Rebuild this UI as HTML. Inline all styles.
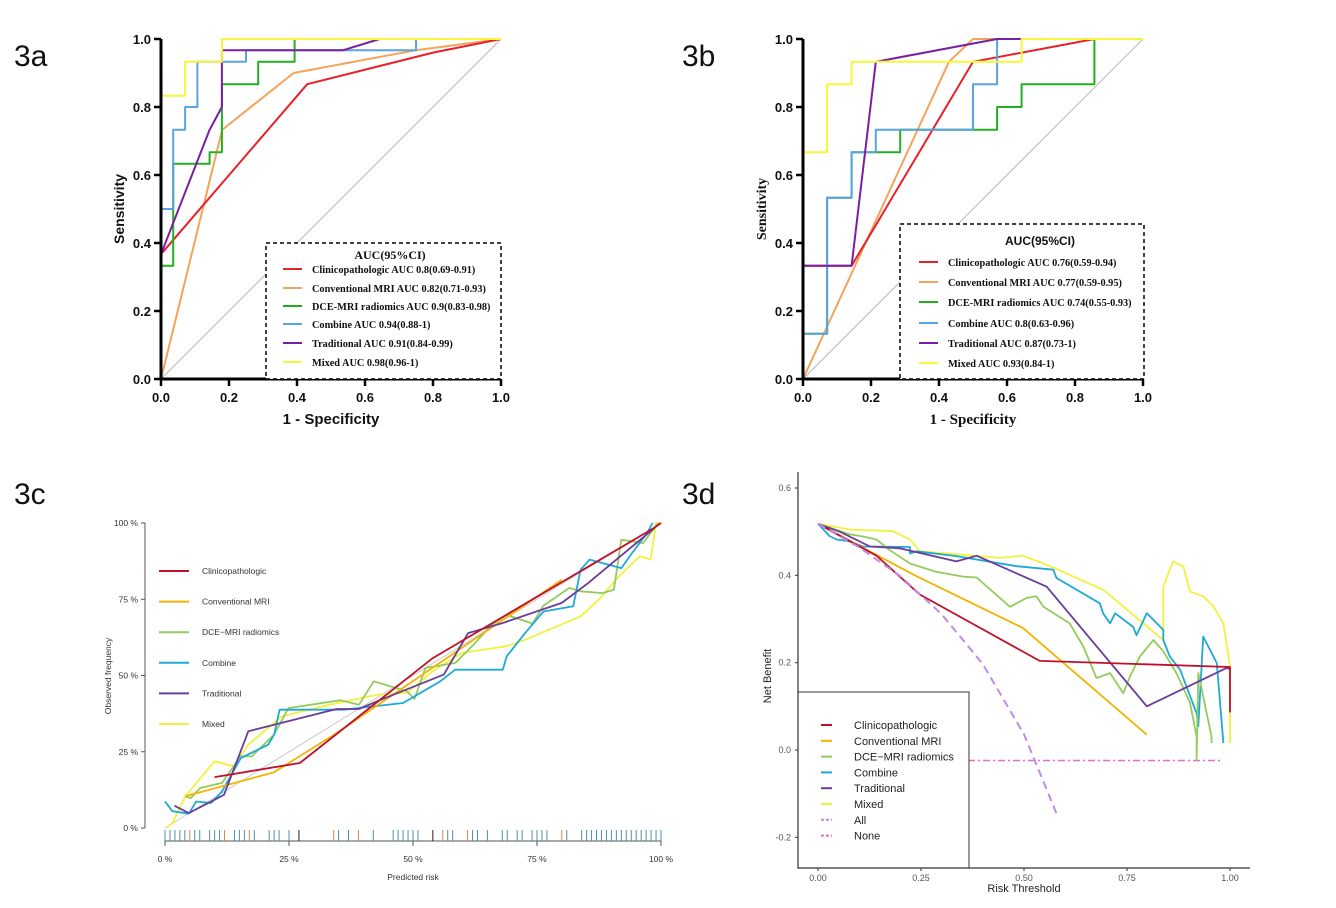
<!DOCTYPE html>
<html><head><meta charset="utf-8"><style>
html,body{margin:0;padding:0;background:#fff;}
svg{display:block;}
.pl{font-family:"Liberation Sans",sans-serif;font-size:30px;fill:#111;}
.tkb{font-family:"Liberation Sans",sans-serif;font-weight:bold;font-size:13px;fill:#111;}
.lgs{font-family:"Liberation Serif",serif;font-weight:bold;font-size:10.3px;fill:#111;}
.sm{font-family:"Liberation Sans",sans-serif;font-size:8.5px;fill:#333;}
.dd{font-family:"Liberation Sans",sans-serif;font-size:9px;fill:#555;}
</style></head><body>
<svg id="fig" width="1336" height="908" viewBox="0 0 1336 908" xmlns="http://www.w3.org/2000/svg">
<rect width="1336" height="908" fill="#fff"/>
<text class="pl" x="14" y="66">3a</text>
<text class="pl" x="682" y="66">3b</text>
<text class="pl" x="14" y="504">3c</text>
<text class="pl" x="682" y="504">3d</text>
<g id="pa"></g>
<g id="pb"></g>
<g id="pc"></g>
<g id="pd"></g>
</svg>
<script>
// ---- 3a ROC data ----
const rocA_clin = [[0,0],[0,0.367],[0.43,0.867],[0.8,0.96],[1,1]];
const rocA_conv = [[0,0],[0.18,0.733],[0.39,0.9],[0.75,0.967],[1,1]];
const rocA_dce = [[0,0],[0,0.333],[0.036,0.333],[0.036,0.633],[0.143,0.633],[0.143,0.667],[0.179,0.667],[0.179,0.867],[0.286,0.867],[0.286,0.933],[0.393,0.933],[0.393,1],[1,1]];
const rocA_comb = [[0,0],[0,0.5],[0.036,0.5],[0.036,0.733],[0.071,0.733],[0.071,0.8],[0.107,0.8],[0.107,0.933],[0.25,0.933],[0.25,0.967],[0.75,0.967],[0.75,1],[1,1]];
const rocA_trad = [[0,0],[0,0.367],[0.143,0.733],[0.179,0.8],[0.179,0.967],[0.25,0.967],[0.536,0.967],[0.643,1],[1,1]];
const rocA_mix = [[0,0],[0,0.833],[0.071,0.833],[0.071,0.933],[0.179,0.933],[0.179,1],[1,1]];
const rocA_labels = ["Clinicopathologic AUC 0.8(0.69-0.91)","Conventional MRI AUC 0.82(0.71-0.93)","DCE-MRI radiomics AUC 0.9(0.83-0.98)","Combine AUC 0.94(0.88-1)","Traditional AUC 0.91(0.84-0.99)","Mixed AUC 0.98(0.96-1)"];
// ---- 3b ROC data ----
const rocB_clin = [[0,0],[0,0.333],[0.143,0.333],[0.5,0.933],[0.857,1],[1,1]];
const rocB_conv = [[0,0],[0.429,0.933],[0.5,1],[1,1]];
const rocB_dce = [[0,0],[0,0.133],[0.071,0.133],[0.071,0.533],[0.143,0.533],[0.143,0.667],[0.286,0.667],[0.286,0.733],[0.571,0.733],[0.571,0.8],[0.643,0.8],[0.643,0.867],[0.857,0.867],[0.857,1],[1,1]];
const rocB_comb = [[0,0],[0,0.133],[0.071,0.133],[0.071,0.533],[0.143,0.533],[0.143,0.667],[0.214,0.667],[0.214,0.733],[0.5,0.733],[0.5,0.867],[0.571,0.867],[0.571,1],[1,1]];
const rocB_trad = [[0,0],[0,0.333],[0.143,0.333],[0.214,0.933],[0.571,1],[1,1]];
const rocB_mix = [[0,0],[0,0.667],[0.071,0.667],[0.071,0.867],[0.143,0.867],[0.143,0.933],[0.643,0.933],[0.643,1],[1,1]];
const rocB_labels = ["Clinicopathologic AUC 0.76(0.59-0.94)","Conventional MRI AUC 0.77(0.59-0.95)","DCE-MRI radiomics AUC 0.74(0.55-0.93)","Combine AUC 0.8(0.63-0.96)","Traditional AUC 0.87(0.73-1)","Mixed AUC 0.93(0.84-1)"];
const rocTicks = [0,0.2,0.4,0.6,0.8,1.0];
const rocTickLabels = ["0.0","0.2","0.4","0.6","0.8","1.0"];
// ---- 3c calibration data (percent) ----
const cal_clin = [[10,16.7],[27.2,21.3],[54,55.7],[98.6,98.4],[100,100]];
const cal_conv = [[4.1,10.4],[22,18.3],[34.6,31.1],[80,81.4]];
const cal_dce = [[4.1,10.4],[5.2,9.8],[7.1,13.1],[11.5,14.8],[15.3,23.5],[17.5,23.5],[22,30.6],[24.9,39.3],[35.4,41.9],[39.1,40.4],[42.1,48.1],[48.8,44.8],[50.3,42.3],[52.5,52.5],[58.5,54.1],[62.2,60.1],[65.9,66.7],[68.9,69.9],[74.1,67],[76.3,72.9],[81.5,78.7],[83.8,77.6],[88.2,77],[90.5,78.1],[92,94.5],[94.2,94],[96.4,93.4],[99.4,100]];
const cal_comb = [[0,8.7],[1.5,5.5],[4.8,4.7],[6.3,8.7],[9.3,8.2],[11.5,12],[15.3,23],[20.8,27.3],[22,30.6],[23.1,38.8],[36.1,38.8],[48,41],[55.5,48.1],[58.5,51.9],[68.1,51.9],[68.9,56.3],[72.6,63.9],[76.3,71],[82.3,72.7],[83.8,84.7],[85.6,88],[92,85.2],[94.2,90.2],[97.2,96.7],[98.3,100]];
const cal_trad = [[1.9,7.3],[4.8,4.9],[11.9,10.9],[16.8,31.7],[34.6,39],[39.1,39],[43.6,42.1],[56.2,50.3],[61.1,63.9],[68.1,67.2],[80,73.8],[85.3,80.3],[98.7,98.4]];
const cal_mix = [[0.2,0],[1.5,1.6],[4.1,10.4],[10,21.9],[13.8,20.2],[16.8,27.3],[23.5,36.6],[33.1,40.4],[42.8,43.7],[48.8,44.3],[54,51.4],[59.9,57.4],[68.9,59.6],[72.6,61.7],[83.8,69.4],[87.5,74.9],[91.2,82],[95.7,89.1],[97.9,88],[99,100],[100,100]];
const calTicks = [0,25,50,75,100];
const calTickLabels = ["0 %","25 %","50 %","75 %","100 %"];
const rugVals = [0,1,2,3,4,5,6,7,9,10,11,12,14,15,16,17,18,21,22,23,25,27,34,35,37,39,42,46,47,48,49,50,51,54,56,57,58,61,62,63,65,68,69,71,72,74,75,76,77,80,81,84,85,86,87,88,89,90,91,92,93,94,95,96,97,98,99,100];
const rugKinds = ["b","b","b","b","b","o","b","b","b","b","b","o","b","b","b","o","b","b","b","b","b","k","o","b","b","o","b","b","b","b","b","b","b","k","o","b","b","o","b","b","b","b","b","b","b","b","b","b","b","o","b","b","b","b","b","b","b","b","b","b","b","b","b","b","b","b","b","b"];
// ---- 3d decision curve data ----
const dca_clin = [[0,0.518],[0.142,0.445],[0.247,0.356],[0.538,0.204],[1,0.190],[1,0.086]];
const dca_conv = [[0,0.518],[0.239,0.398],[0.498,0.279],[0.798,0.035]];
const dca_dce = [[0,0.518],[0.077,0.494],[0.109,0.489],[0.142,0.482],[0.174,0.458],[0.223,0.427],[0.287,0.408],[0.352,0.397],[0.385,0.395],[0.466,0.328],[0.506,0.348],[0.530,0.352],[0.547,0.328],[0.611,0.290],[0.644,0.237],[0.676,0.165],[0.709,0.176],[0.741,0.130],[0.757,0.168],[0.781,0.214],[0.814,0.252],[0.838,0.226],[0.870,0.176],[0.903,0.108],[0.919,0.031],[0.919,-0.022],[0.923,0.176],[0.935,0.123],[0.955,0.031],[0.955,0.016]];
const dca_comb = [[0,0.518],[0.028,0.490],[0.045,0.482],[0.077,0.478],[0.109,0.466],[0.223,0.465],[0.223,0.450],[0.239,0.455],[0.336,0.444],[0.482,0.421],[0.571,0.413],[0.579,0.394],[0.684,0.336],[0.692,0.313],[0.709,0.290],[0.721,0.313],[0.765,0.282],[0.773,0.263],[0.798,0.313],[0.838,0.275],[0.838,0.252],[0.854,0.214],[0.879,0.184],[0.919,0.084],[0.923,0.054],[0.935,0.260],[0.968,0.199],[0.976,0.107],[0.984,0.016]];
const dca_trad = [[0,0.518],[0.053,0.500],[0.126,0.466],[0.198,0.462],[0.336,0.432],[0.385,0.445],[0.555,0.374],[0.798,0.100],[0.992,0.188],[1,0.185]];
const dca_mix = [[0,0.518],[0.077,0.505],[0.182,0.501],[0.223,0.482],[0.247,0.455],[0.441,0.440],[0.498,0.445],[0.563,0.421],[0.692,0.367],[0.838,0.252],[0.838,0.374],[0.862,0.432],[0.887,0.420],[0.903,0.363],[0.935,0.352],[0.960,0.329],[0.984,0.290],[1,0.192],[1,0.016]];
const dca_all = [[0,0.518],[0.1,0.464],[0.2,0.398],[0.3,0.311],[0.4,0.197],[0.5,0.036],[0.58,-0.148]];
const dca_none = [[0,-0.024],[0.976,-0.024]];
const dcaXTicks = [0,0.25,0.5,0.75,1];
const dcaXLabels = ["0.00","0.25","0.50","0.75","1.00"];
const dcaYTicks = [-0.2,0,0.2,0.4,0.6];
const dcaYLabels = ["-0.2","0.0","0.2","0.4","0.6"];

const NS="http://www.w3.org/2000/svg";
function lin(d0,d1,r0,r1){return v=>r0+(v-d0)/(d1-d0)*(r1-r0);}
function mk(parent,tag,attrs){const e=document.createElementNS(NS,tag);for(const k in attrs)e.setAttribute(k,attrs[k]);parent.appendChild(e);return e;}
function line(g,pts,sx,sy,color,w,name,dash){
  const e=mk(g,'polyline',{points:pts.map(p=>sx(p[0]).toFixed(1)+','+sy(p[1]).toFixed(1)).join(' '),fill:'none',stroke:color,'stroke-width':w,'stroke-linejoin':'round'});
  if(dash)e.setAttribute('stroke-dasharray',dash);
  
  
  return e;
}
function txt(g,x,y,s,cls,anchor,name){
  const e=mk(g,'text',{x:x,y:y,class:cls,'text-anchor':anchor||'start'});e.textContent=s;
  
  
  return e;
}

function roc(gid,x0,series,labels,serif,leg){
  const g=document.getElementById(gid);
  const sx=lin(0,1,x0,x0+340), sy=lin(0,1,379,39);
  line(g,[[0,0],[1,1]],sx,sy,'#b8b8b8',1,'reference-diagonal');
  const cols=['#e8202a','#f5a35a','#22b022','#5ba3e0','#7a1fa2','#f6f63a'];
  const names=['clinicopathologic','conventional-mri','dce-mri-radiomics','combine','traditional','mixed'];
  const order=[1,0,2,3,4,5];
  order.forEach(i=>line(g,series[i],sx,sy,cols[i],2,'roc-line-'+names[i]));
  const ax=mk(g,'path',{d:`M${x0} 39V379H${x0+340}`,fill:'none',stroke:'#000','stroke-width':3});
  
  
  rocTicks.forEach((t,i)=>{
    const ty=mk(g,'line',{x1:x0-7,x2:x0,y1:sy(t),y2:sy(t),stroke:'#000','stroke-width':2.5});
    
    
    const tx=mk(g,'line',{x1:sx(t),x2:sx(t),y1:379,y2:386,stroke:'#000','stroke-width':2.5});
    
    
    txt(g,x0-10,sy(t)+5,rocTickLabels[i],'tkb','end','y-tick-label');
    txt(g,sx(t),402,rocTickLabels[i],'tkb','middle','x-tick-label');
  });
  const fam=serif?'"Liberation Serif",serif':'"Liberation Sans",sans-serif';
  const yl=txt(g,0,0,'Sensitivity','tkb','middle','y-axis-title');
  yl.setAttribute('transform',`translate(${x0-37},209) rotate(-90)`);
  yl.setAttribute('style',`font-family:${fam};font-size:14px`);
  const xl=txt(g,x0+170,424,'1 - Specificity','tkb','middle','x-axis-title');
  xl.setAttribute('style',`font-family:${fam};font-size:15px`);
  const lg=mk(g,'g',{});
  
  
  const bx=mk(lg,'rect',{x:leg.x,y:leg.y,width:leg.w,height:379-leg.y,fill:'#fff',stroke:'#000','stroke-width':1.5,'stroke-dasharray':'4,3'});
  
  
  const tt=txt(lg,leg.tx,leg.ty,'AUC(95%CI)','lgs','middle','legend-title');
  if(leg.sansTitle) tt.setAttribute('style','font-family:"Liberation Sans",sans-serif;font-size:12px');
  else tt.setAttribute('style','font-size:12px');
  labels.forEach((s,i)=>{
    const y=leg.ey[i];
    const l=mk(lg,'line',{x1:leg.lx,x2:leg.lx+19,y1:y,y2:y,stroke:cols[i],'stroke-width':2});
    
    
    txt(lg,leg.lx+29,y+4,s,'lgs','start','legend-entry-'+names[i]);
  });
}
roc('pa',161,[rocA_clin,rocA_conv,rocA_dce,rocA_comb,rocA_trad,rocA_mix],rocA_labels,false,
  {x:266,y:243,w:235,tx:390,ty:259,ey:[269,288,306,324,343,362],lx:283});
roc('pb',803,[rocB_clin,rocB_conv,rocB_dce,rocB_comb,rocB_trad,rocB_mix],rocB_labels,true,
  {x:900,y:224,w:244,tx:1040,ty:245,ey:[262,282,302,323,343,363],lx:919,sansTitle:true});

// ---- 3c ----
(function(){
  const g=document.getElementById('pc');
  const sx=lin(0,100,165,661), sy=lin(0,100,828,523);
  line(g,[[0,0],[100,100]],sx,sy,'#c8c8c8',1,'ideal-diagonal');
  const cols=['#c0102a','#f5b400','#92cc5c','#1fa8d8','#6a3d9a','#f2f23a'];
  const names=['clinicopathologic','conventional-mri','dce-mri-radiomics','combine','traditional','mixed'];
  const ser=[cal_clin,cal_conv,cal_dce,cal_comb,cal_trad,cal_mix];
  [5,2,3,1,4,0].forEach(i=>line(g,ser[i],sx,sy,cols[i],1.8,'calibration-line-'+names[i]));
  const ax=mk(g,'path',{d:'M145 523V828M165 841H661',fill:'none',stroke:'#555','stroke-width':1});
  
  
  calTicks.forEach((t,i)=>{
    const a=mk(g,'line',{x1:141,x2:145,y1:sy(t),y2:sy(t),stroke:'#555'});
    
    
    txt(g,138,sy(t)+3,calTickLabels[i],'sm','end','y-tick-label');
    const b=mk(g,'line',{x1:sx(t),x2:sx(t),y1:841,y2:846,stroke:'#555'});
    
    
    txt(g,sx(t),862,calTickLabels[i],'sm','middle','x-tick-label');
  });
  const rc={b:'#4a90b0',o:'#e08a40',k:'#222'};
  rugVals.forEach((v,i)=>{
    const r=mk(g,'line',{x1:sx(v),x2:sx(v),y1:830,y2:841,stroke:rc[rugKinds[i]],'stroke-width':1});
    
    
  });
  const yl=txt(g,0,0,'Observed frequency','sm','middle','y-axis-title');
  yl.setAttribute('transform','translate(111,676) rotate(-90)');
  txt(g,413,880,'Predicted risk','sm','middle','x-axis-title');
  const labs=['Clinicopathologic','Conventional MRI','DCE\u2212MRI radiomics','Combine','Traditional','Mixed'];
  const lg=mk(g,'g',{});
  
  
  labs.forEach((s,i)=>{
    const y=571+i*30.6;
    const l=mk(lg,'line',{x1:159,x2:189,y1:y,y2:y,stroke:cols[i],'stroke-width':2});
    
    
    txt(lg,202,y+3,s,'sm','start','legend-entry-'+names[i]);
  });
})();

// ---- 3d ----
(function(){
  const g=document.getElementById('pd');
  const sx=lin(0,1,818,1230), sy=lin(0,0.6,750,488);
  line(g,dca_none,sx,sy,'#e070c8',1.5,'none-line','7,3,2,3');
  const cols=['#c0102a','#f0b400','#92cc5c','#1fa8d8','#6a3d9a','#f2f23a'];
  const names=['clinicopathologic','conventional-mri','dce-mri-radiomics','combine','traditional','mixed'];
  const ser=[dca_clin,dca_conv,dca_dce,dca_comb,dca_trad,dca_mix];
  [5,3,2,1,4,0].forEach(i=>line(g,ser[i],sx,sy,cols[i],1.8,'net-benefit-line-'+names[i]));
  const lg=mk(g,'g',{});
  
  
  const bx=mk(lg,'rect',{x:798,y:692,width:171,height:176,fill:'#fff',stroke:'#333','stroke-width':1});
  
  
  line(g,dca_all,sx,sy,'#c08ae8',2,'all-line','8,5');
  const ax=mk(g,'path',{d:'M798 472V868H1250',fill:'none',stroke:'#333','stroke-width':1.2});
  
  
  dcaXTicks.forEach((t,i)=>{
    const a=mk(g,'line',{x1:sx(t),x2:sx(t),y1:868,y2:871,stroke:'#333'});
    
    
    txt(g,sx(t),881,dcaXLabels[i],'dd','middle','x-tick-label');
  });
  dcaYTicks.forEach((t,i)=>{
    const a=mk(g,'line',{x1:795,x2:798,y1:sy(t),y2:sy(t),stroke:'#333'});
    
    
    txt(g,791,sy(t)+3,dcaYLabels[i],'dd','end','y-tick-label');
  });
  const yl=txt(g,0,0,'Net Benefit','dd','middle','y-axis-title');
  yl.setAttribute('transform','translate(771,676) rotate(-90)');
  yl.setAttribute('style','font-size:11px;fill:#222');
  const xl=txt(g,1024,892,'Risk Threshold','dd','middle','x-axis-title');
  xl.setAttribute('style','font-size:11px;fill:#222');
  const labs=['Clinicopathologic','Conventional MRI','DCE\u2212MRI radiomics','Combine','Traditional','Mixed','All','None'];
  const lc=cols.concat(['#c08ae8','#e070c8']);
  const ln=names.concat(['all','none']);
  labs.forEach((s,i)=>{
    const y=725+i*15.8;
    const l=mk(lg,'line',{x1:821,x2:832,y1:y,y2:y,stroke:lc[i],'stroke-width':2});
    if(i>=6) l.setAttribute('stroke-dasharray','3,2');
    
    
    const t=txt(lg,854,y+4,s,'dd','start','legend-entry-'+ln[i]);
    t.setAttribute('style','font-size:11px;fill:#222');
  });
})();
</script>
</body></html>
